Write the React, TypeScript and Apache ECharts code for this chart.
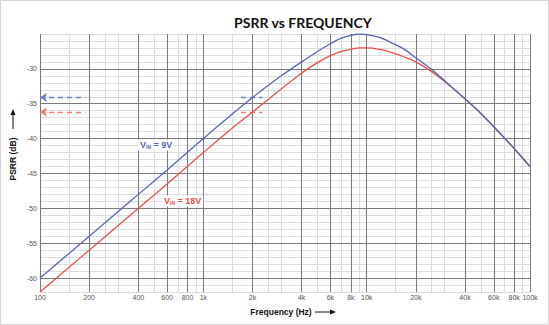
import React, { useEffect, useRef } from 'react';
import * as echarts from 'echarts';

const freqHz = [100, 150, 200, 300, 400, 600, 1000, 1500, 2000, 3000, 4000, 5000, 6000, 7000, 8000, 9000, 10000, 12000, 14000, 17000, 20000, 25000, 30000, 40000, 50000, 60000, 75000, 100000];
const psrr9V = [-60, -56.5, -54, -50.5, -48, -44.5, -40, -36.5, -34.1, -31, -29, -27.5, -26.4, -25.6, -25.2, -25.0, -25.1, -25.5, -26.2, -27.2, -28.4, -30.1, -31.7, -34.3, -36.4, -38.3, -40.7, -44];
const psrr18V = [-62, -58.5, -56, -52.5, -50, -46.5, -42, -38.5, -36.2, -32.9, -30.6, -29.1, -28.1, -27.5, -27.2, -27.0, -27.0, -27.2, -27.6, -28.3, -29.0, -30.4, -31.8, -34.3, -36.4, -38.3, -40.7, -44];

const xTickValues = [100, 200, 400, 600, 800, 1000, 2000, 4000, 6000, 8000, 10000, 20000, 40000, 60000, 80000, 100000];
const xTickLabels = ['100', '200', '400', '600', '800', '1k', '2k', '4k', '6k', '8k', '10k', '20k', '40k', '60k', '80k', '100k'];
const xMinorValues = [150, 250, 300, 500, 700, 900, 1500, 2500, 3000, 5000, 7000, 9000, 15000, 25000, 30000, 50000, 70000, 90000];
const yMajorValues = [-30, -35, -40, -45, -50, -55, -60];
const yMajorLabels = ['-30', '-35', '-40', '-45', '-50', '-55', '-60'];
const yMinorValues = [-25, -26, -27, -28, -29, -31, -32, -33, -34, -36, -37, -38, -39, -41, -42, -43, -44, -46, -47, -48, -49, -51, -52, -53, -54, -56, -57, -58, -59, -61, -62];

const Y_MIN = -62;
const Y_MAX = -25;
const X_MIN = 100;
const X_MAX = 100000;

const ref9V = { level: -34.1, arrowFrom: 100, arrowTo: 190, segFrom: 1700, segTo: 2300 };
const ref18V = { level: -36.2, arrowFrom: 100, arrowTo: 190, segFrom: 1700, segTo: 2300 };

const BLUE = '#5667b2';
const RED = '#e9504a';
const BLUE_LIGHT = '#6f7fc4';
const RED_LIGHT = '#f07b72';

export default function App() {
  const ref = useRef<HTMLDivElement>(null);
  useEffect(() => {
    if (!ref.current) return;
    const chart = echarts.init(ref.current, null, { renderer: 'svg' });

    const majorLine = { color: '#7a7a7a', width: 1, type: 'solid' };
    const minorLine = { color: '#dcdcdc', width: 1, type: 'solid' };
    const tickLabel = { color: '#555', fontSize: 7, fontFamily: 'Liberation Sans, Arial, sans-serif' };

    const gridLines: any[] = [];
    xMinorValues.forEach((v) => {
      gridLines.push([{ coord: [v, Y_MIN], lineStyle: minorLine, label: { show: false } }, { coord: [v, Y_MAX] }]);
    });
    yMinorValues.forEach((v) => {
      gridLines.push([{ coord: [X_MIN, v], lineStyle: minorLine, label: { show: false } }, { coord: [X_MAX, v] }]);
    });
    xTickValues.forEach((v, i) => {
      gridLines.push([
        {
          coord: [v, Y_MIN],
          lineStyle: majorLine,
          label: { show: true, position: 'start', formatter: xTickLabels[i], distance: 2, ...tickLabel },
        },
        { coord: [v, Y_MAX] },
      ]);
    });
    yMajorValues.forEach((v, i) => {
      gridLines.push([
        {
          coord: [X_MIN, v],
          lineStyle: majorLine,
          label: { show: true, position: 'start', formatter: yMajorLabels[i], distance: 3, ...tickLabel },
        },
        { coord: [X_MAX, v] },
      ]);
    });

    const refLines = (r: typeof ref9V, color: string) => [
      [
        { coord: [r.arrowFrom, r.level], symbol: 'arrow', lineStyle: { color, width: 1.3, type: [5, 4] } },
        { coord: [r.arrowTo, r.level], symbol: 'none' },
      ],
      [
        { coord: [r.segFrom, r.level], symbol: 'none', lineStyle: { color, width: 1.3, type: [5, 4] } },
        { coord: [r.segTo, r.level], symbol: 'none' },
      ],
    ];

    chart.setOption({
      animation: false,
      backgroundColor: '#ffffff',
      title: {
        text: 'PSRR vs FREQUENCY',
        left: 298,
        textAlign: 'center',
        top: 10,
        textStyle: { fontSize: 14, fontWeight: 'bold', color: '#111', fontFamily: 'Lato, sans-serif' },
      },
      grid: { left: 40, right: 19, top: 34, bottom: 33 },
      xAxis: {
        type: 'log',
        logBase: 10,
        min: X_MIN,
        max: X_MAX,
        axisLabel: { show: false },
        axisTick: { show: false },
        axisLine: { show: false },
        splitLine: { show: false },
      },
      yAxis: {
        type: 'value',
        min: Y_MIN,
        max: Y_MAX,
        axisLabel: { show: false },
        axisTick: { show: false },
        axisLine: { show: false },
        splitLine: { show: false },
      },
      series: [
        {
          name: 'grid',
          type: 'line',
          z: 1,
          data: [[X_MIN, Y_MIN]],
          showSymbol: false,
          lineStyle: { width: 0 },
          silent: true,
          markLine: { silent: true, z: 1, symbol: 'none', animation: false, data: gridLines },
        },
        {
          name: 'refs',
          type: 'line',
          z: 2,
          data: [[X_MIN, Y_MIN]],
          showSymbol: false,
          lineStyle: { width: 0 },
          silent: true,
          markLine: {
            silent: true,
            z: 2,
            symbolSize: [7, 7],
            label: { show: false },
            animation: false,
            data: [...refLines(ref9V, BLUE_LIGHT), ...refLines(ref18V, RED_LIGHT)],
          },
        },
        {
          name: 'VIN = 18V',
          type: 'line',
          z: 3,
          data: freqHz.map((f, i) => [f, psrr18V[i]]),
          smooth: 0.3,
          showSymbol: false,
          lineStyle: { color: RED, width: 1.3 },
        },
        {
          name: 'VIN = 9V',
          type: 'line',
          z: 4,
          data: freqHz.map((f, i) => [f, psrr9V[i]]),
          smooth: 0.3,
          showSymbol: false,
          lineStyle: { color: BLUE, width: 1.3 },
        },
      ],
      graphic: [
        {
          type: 'rect',
          shape: { x: 0.5, y: 0.5, width: 548, height: 324 },
          style: { fill: 'none', stroke: '#d4d4d4', lineWidth: 1 },
          silent: true,
          z: 100,
        },
        {
          type: 'text',
          x: 138,
          y: 145,
          z: 50,
          style: {
            text: '{v|V}{s|IN}{t| = 9V}',
            verticalAlign: 'middle',
            backgroundColor: '#ffffff',
            padding: [1, 2],
            rich: {
              v: { fontSize: 9, fontWeight: 'bold', fill: BLUE, fontFamily: 'Liberation Sans, Arial, sans-serif' },
              s: { fontSize: 5, fontWeight: 'bold', fill: BLUE, padding: [4, 0, 0, 0], fontFamily: 'Liberation Sans, Arial, sans-serif' },
              t: { fontSize: 9, fontWeight: 'bold', fill: BLUE, fontFamily: 'Liberation Sans, Arial, sans-serif' },
            },
          },
        },
        {
          type: 'text',
          x: 162,
          y: 201,
          z: 50,
          style: {
            text: '{v|V}{s|IN}{t| = 18V}',
            verticalAlign: 'middle',
            backgroundColor: '#ffffff',
            padding: [1, 2],
            rich: {
              v: { fontSize: 9, fontWeight: 'bold', fill: RED, fontFamily: 'Liberation Sans, Arial, sans-serif' },
              s: { fontSize: 5, fontWeight: 'bold', fill: RED, padding: [4, 0, 0, 0], fontFamily: 'Liberation Sans, Arial, sans-serif' },
              t: { fontSize: 9, fontWeight: 'bold', fill: RED, fontFamily: 'Liberation Sans, Arial, sans-serif' },
            },
          },
        },
        {
          type: 'text',
          x: 281,
          y: 312,
          style: {
            text: 'Frequency (Hz)',
            align: 'center',
            verticalAlign: 'middle',
            fontSize: 8.5,
            fontWeight: 'bold',
            fill: '#111',
            fontFamily: 'Liberation Sans, Arial, sans-serif',
          },
        },
        {
          type: 'line',
          shape: { x1: 315, y1: 312, x2: 332, y2: 312 },
          style: { stroke: '#111', lineWidth: 1 },
        },
        {
          type: 'polygon',
          shape: { points: [[336, 312], [330, 309.5], [330, 314.5]] },
          style: { fill: '#111' },
        },
        {
          type: 'text',
          x: 13,
          y: 159,
          rotation: Math.PI / 2,
          style: {
            text: 'PSRR (dB)',
            align: 'center',
            verticalAlign: 'middle',
            fontSize: 8.5,
            fontWeight: 'bold',
            fill: '#111',
            fontFamily: 'Liberation Sans, Arial, sans-serif',
          },
        },
        {
          type: 'line',
          shape: { x1: 13, y1: 129, x2: 13, y2: 113 },
          style: { stroke: '#111', lineWidth: 1 },
        },
        {
          type: 'polygon',
          shape: { points: [[13, 109], [10.5, 115], [15.5, 115]] },
          style: { fill: '#111' },
        },
      ],
    });
    return () => chart.dispose();
  }, []);
  return (
    <div
      ref={ref}
      style={{ position: 'fixed', left: 0, top: 0, width: 549, height: 325 }}
    />
  );
}
